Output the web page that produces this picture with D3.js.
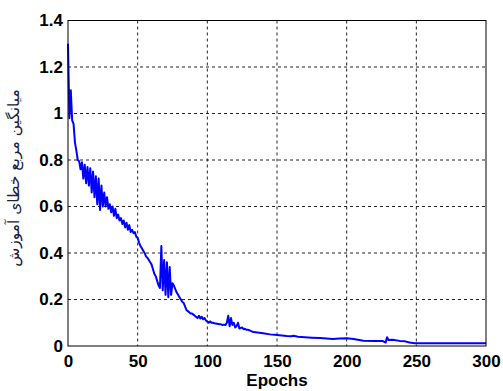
<!DOCTYPE html>
<html>
<head>
<meta charset="utf-8">
<script src="https://cdn.jsdelivr.net/npm/d3@7"></script>
<style>
  body { margin: 0; background: #fff; }
  svg { display: block; }
</style>
</head>
<body>
<div id="vis"></div>
<script>
// epochs and training MSE
var epochs = [
    0, 1, 2, 3, 4, 5, 6, 7, 8, 9,
    10, 11, 12, 13, 14, 15, 16, 17, 18, 19,
    20, 21, 22, 23, 24, 25, 26, 27, 28, 29,
    30, 31, 32, 33, 34, 35, 36, 37, 38, 39,
    40, 41, 42, 43, 44, 45, 46, 47, 48, 49,
    50, 51, 52, 53, 54, 55, 56, 57, 58, 59,
    60, 61, 62, 63, 64, 65, 66, 67, 68, 69,
    70, 71, 72, 73, 74, 75, 76, 77, 78, 79,
    80, 81, 82, 83, 84, 85, 86, 87, 88, 89,
    90, 91, 92, 93, 94, 95, 96, 97, 98, 99,
    100, 101, 102, 103, 104, 105, 106, 107, 108, 109,
    110, 111, 112, 113, 114, 115, 116, 117, 118, 119,
    120, 121, 122, 123, 124, 125, 126, 127, 128, 129,
    130, 133, 136, 140, 145, 150, 157, 160, 162, 165,
    170, 175, 181, 190, 195, 200, 205, 212, 220, 226,
    228, 229, 230, 233, 238, 242, 245, 249, 300
];
var mse = [
    1.30, 0.98, 1.10, 0.97, 0.955, 0.875, 0.84, 0.80, 0.795, 0.76,
    0.79, 0.72, 0.78, 0.70, 0.77, 0.69, 0.765, 0.66, 0.75, 0.64,
    0.73, 0.61, 0.72, 0.585, 0.69, 0.60, 0.66, 0.60, 0.64, 0.59,
    0.61, 0.575, 0.60, 0.56, 0.59, 0.55, 0.565, 0.54, 0.55, 0.525,
    0.54, 0.51, 0.53, 0.50, 0.52, 0.49, 0.50, 0.485, 0.49, 0.47,
    0.465, 0.445, 0.43, 0.42, 0.41, 0.40, 0.385, 0.38, 0.37, 0.36,
    0.35, 0.33, 0.31, 0.30, 0.28, 0.26, 0.25, 0.43, 0.24, 0.37,
    0.22, 0.36, 0.21, 0.34, 0.22, 0.27, 0.26, 0.245, 0.23, 0.22,
    0.21, 0.20, 0.19, 0.185, 0.17, 0.155, 0.15, 0.145, 0.14, 0.14,
    0.135, 0.13, 0.125, 0.12, 0.13, 0.118, 0.126, 0.115, 0.12, 0.11,
    0.105, 0.10, 0.106, 0.10, 0.10, 0.098, 0.097, 0.096, 0.095, 0.094,
    0.093, 0.09, 0.092, 0.09, 0.10, 0.13, 0.085, 0.12, 0.09, 0.10,
    0.08, 0.085, 0.10, 0.075, 0.078, 0.08, 0.072, 0.074, 0.07, 0.07,
    0.068, 0.06, 0.058, 0.055, 0.05, 0.047, 0.043, 0.042, 0.044, 0.04,
    0.038, 0.036, 0.034, 0.03, 0.032, 0.033, 0.03, 0.023, 0.022, 0.021,
    0.015, 0.038, 0.026, 0.027, 0.022, 0.02, 0.015, 0.012, 0.012
];
var xTicks = [0, 50, 100, 150, 200, 250, 300];
var yTicks = [0, 0.2, 0.4, 0.6, 0.8, 1, 1.2, 1.4];
var xLabel = "Epochs";
var yLabel = "میانگین مربع خطای آموزش";

var totalWidth = 503, totalHeight = 391;
var margin = {top: 20.5, left: 68, right: 17, bottom: 45};
var width = totalWidth - margin.left - margin.right;
var height = totalHeight - margin.top - margin.bottom;

var x = d3.scaleLinear().domain([0, 300]).range([0, width]);
var y = d3.scaleLinear().domain([0, 1.4]).range([height, 0]);

var SVG = d3.select("#vis").append("svg")
    .attr("width", totalWidth)
    .attr("height", totalHeight);

var svg = SVG.append("g")
    .attr("transform", "translate(" + margin.left + "," + margin.top + ")");

// grid
svg.append("g").selectAll("line")
    .data(xTicks.slice(1, -1))
    .join("line")
    .attr("x1", function(d) { return x(d); })
    .attr("x2", function(d) { return x(d); })
    .attr("y1", 0)
    .attr("y2", height)
    .attr("stroke", "#222")
    .attr("stroke-dasharray", "3,3");

svg.append("g").selectAll("line")
    .data(yTicks.slice(1, -1))
    .join("line")
    .attr("x1", 0)
    .attr("x2", width)
    .attr("y1", function(d) { return y(d); })
    .attr("y2", function(d) { return y(d); })
    .attr("stroke", "#222")
    .attr("stroke-dasharray", "3,3");

// the curve
var line = d3.line()
    .x(function(d, i) { return x(epochs[i]); })
    .y(function(d) { return y(d); });

svg.append("path")
    .datum(mse)
    .attr("fill", "none")
    .attr("stroke", "#0000ff")
    .attr("stroke-width", 2)
    .attr("stroke-linejoin", "round")
    .attr("d", line);

// box
svg.append("rect")
    .attr("x", 0)
    .attr("y", 0)
    .attr("width", width)
    .attr("height", height)
    .attr("fill", "none")
    .attr("stroke", "#000")
    .attr("stroke-width", 1);

// axes
var xAxis = svg.append("g")
    .attr("transform", "translate(0," + height + ")")
    .call(d3.axisBottom(x).tickValues(xTicks).tickFormat(d3.format("d")).tickSize(0).tickPadding(8.5));

var yAxis = svg.append("g")
    .call(d3.axisLeft(y).tickValues(yTicks).tickFormat(function(d) { return String(d); }).tickSize(0).tickPadding(5));

[xAxis, yAxis].forEach(function(a) {
    a.select(".domain").remove();
    a.selectAll("text")
        .attr("fill", "#000")
        .style("font-family", "'Liberation Sans', Arial, sans-serif")
        .style("font-weight", "bold")
        .style("font-size", "17px");
});

svg.append("text")
    .attr("x", width / 2)
    .attr("y", height + 40)
    .attr("text-anchor", "middle")
    .style("font-family", "'Liberation Sans', Arial, sans-serif")
    .style("font-weight", "bold")
    .style("font-size", "17px")
    .text(xLabel);

SVG.append("text")
    .attr("transform", "translate(19,178) rotate(-90)")
    .attr("text-anchor", "middle")
    .attr("direction", "rtl")
    .attr("fill", "#202040")
    .style("font-family", "'DejaVu Sans', sans-serif")
    .style("font-size", "15.5px")
    .text(yLabel);
</script>
</body>
</html>
